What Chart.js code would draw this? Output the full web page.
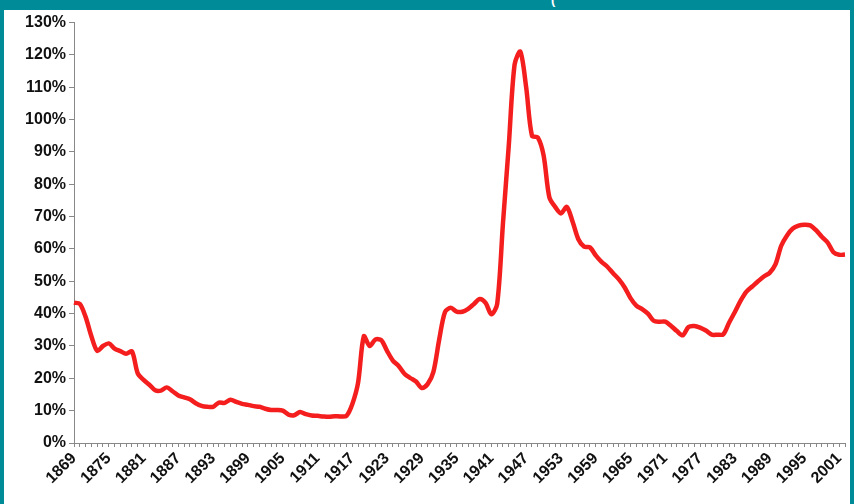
<!DOCTYPE html>
<html>
<head>
<meta charset="utf-8">
<script src="https://cdn.jsdelivr.net/npm/chart.js@4"></script>
<style>
  html, body { margin: 0; padding: 0; }
  body { width: 854px; height: 504px; background: #008b99; position: relative; overflow: hidden; }
  #box { position: absolute; left: 4px; top: 10px; width: 846px; height: 494px; background: #fff; }
  #cut { position: absolute; left: 551px; top: -8px; color: #fff; font: bold 13px "Liberation Sans"; }
</style>
</head>
<body>
<div id="cut">(</div>
<div id="box"><canvas id="chart" width="846" height="494"></canvas></div>
<script>
"use strict"

// första året och sista året i serien
const startYear = 1869
const endYear = 2002
const labelStep = 6

// värden i procent, ett per år 1869-2002
const values = [
  43.4, 43, 39, 33, 28.5, 30, 30.8, 29.2, 28.4, 27.6,
  28.3, 21.5, 19.5, 18, 16.3, 16.2, 17.2, 16, 14.7, 14.1,
  13.5, 12.3, 11.5, 11.2, 11.2, 12.5, 12.4, 13.4, 12.7, 12.1,
  11.8, 11.4, 11.2, 10.6, 10.2, 10.2, 10, 8.8, 8.6, 9.6,
  8.9, 8.5, 8.4, 8.2, 8.1, 8.3, 8.2, 8.4, 12, 18.6,
  33, 30, 32, 31.8, 28.5, 25.5, 23.8, 21.4, 20.1, 19,
  17, 18.2, 22, 32, 40.5, 41.8, 40.6, 40.6, 41.5, 43,
  44.5, 43.3, 39.8, 43, 68, 92, 117, 121, 110, 95,
  94.5, 89, 76, 73, 71, 73, 68.5, 63, 60.7, 60.5,
  58, 56, 54.5, 52.5, 50.6, 48.1, 44.8, 42.5, 41.4, 40,
  37.8, 37.5, 37.5, 36.2, 34.6, 33.3, 35.9, 36.2, 35.7, 34.8,
  33.5, 33.5, 33.6, 37.2, 40.5, 44, 46.8, 48.4, 50, 51.5,
  52.6, 55.2, 61, 64.2, 66.3, 67.2, 67.5, 67.3, 65.8, 63.8,
  62, 59, 58.2, 58.3
]

// y-axelns gränser
const yMin = 0
const yMax = 130
const yStep = 10

const years = []
for (let y = startYear; y <= endYear; y++) {
    years.push(String(y))
}

const ctx = document.getElementById('chart').getContext('2d')
new Chart(ctx, {
    type: 'line',
    data: {
        labels: years,
        datasets: [{
            data: values,
            borderColor: '#f41e1e',
            borderWidth: 4.5,
            pointRadius: 0,
            tension: 0.3,
            fill: false
        }]
    },
    options: {
        responsive: false,
        animation: false,
        layout: {
            padding: { top: 12, right: 5, left: 0, bottom: 0 }
        },
        plugins: {
            legend: { display: false },
            tooltip: { enabled: false }
        },
        scales: {
            x: {
                offset: false,
                border: { color: '#888', width: 1 },
                grid: { drawOnChartArea: false, tickLength: 4, color: '#888' },
                ticks: {
                    autoSkip: false,
                    minRotation: 45,
                    maxRotation: 45,
                    padding: 2,
                    color: '#111',
                    font: { family: 'Liberation Sans', size: 16, weight: 'bold' },
                    callback: function (val, i) {
                        return (i % labelStep === 0) ? years[i] : ''
                    }
                },
                afterFit: function (axis) {
                    axis.height = 61
                    axis.paddingLeft = 0
                    axis.paddingRight = 0
                }
            },
            y: {
                min: yMin,
                max: yMax,
                border: { color: '#888', width: 1, dash: [1, 1] },
                grid: { drawOnChartArea: false, tickLength: 5, color: '#888' },
                ticks: {
                    stepSize: yStep,
                    padding: 3,
                    color: '#111',
                    font: { family: 'Liberation Sans', size: 16, weight: 'bold' },
                    callback: function (val) { return val + '%' }
                },
                afterFit: function (axis) { axis.width = 70 }
            }
        }
    }
})
</script>
</body>
</html>
